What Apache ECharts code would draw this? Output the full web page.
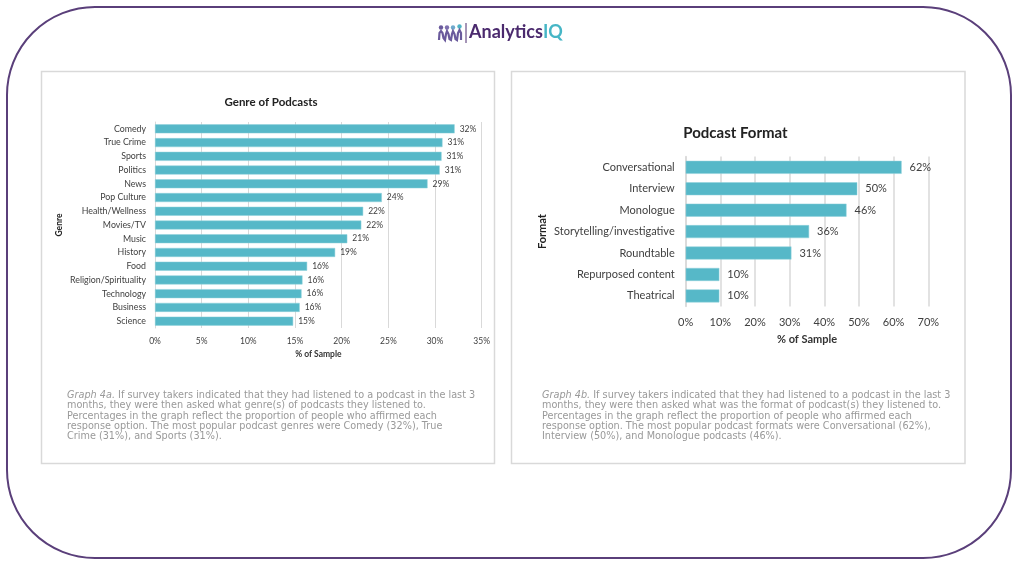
<!DOCTYPE html>
<html>
<head>
<meta charset="utf-8">
<script src="https://cdn.jsdelivr.net/npm/echarts@6/dist/echarts.min.js"></script>
<style>
html,body{margin:0;padding:0;background:#fff;}
#chart{width:1024px;height:572px;}
</style>
</head>
<body>
<div id="chart"></div>
<script>
// ---- data ----
var genreCategories = ['Comedy','True Crime','Sports','Politics','News','Pop Culture','Health/Wellness','Movies/TV','Music','History','Food','Religion/Spirituality','Technology','Business','Science'];
var genreValues = [32.1,30.8,30.7,30.5,29.2,24.3,22.3,22.1,20.6,19.3,16.3,15.8,15.7,15.5,14.8];
var formatCategories = ['Conversational','Interview','Monologue','Storytelling/investigative','Roundtable','Repurposed content','Theatrical'];
var formatValues = [62.3,49.5,46.4,35.6,30.5,9.7,9.7];
var genreTicks = {min:0, max:35, interval:5};
var formatTicks = {min:0, max:70, interval:10};
var captionA = [
  ['Graph 4a.', ' If survey takers indicated that they had listened to a podcast in the last 3'],
  ['', 'months, they were then asked what genre(s) of podcasts they listened to.'],
  ['', 'Percentages in the graph reflect the proportion of people who affirmed each'],
  ['', 'response option. The most popular podcast genres were Comedy (32%), True'],
  ['', 'Crime (31%), and Sports (31%).']
];
var captionB = [
  ['Graph 4b.', ' If survey takers indicated that they had listened to a podcast in the last 3'],
  ['', 'months, they were then asked what was the format of podcast(s) they listened to.'],
  ['', 'Percentages in the graph reflect the proportion of people who affirmed each'],
  ['', 'response option. The most popular podcast formats were Conversational (62%),'],
  ['', 'Interview (50%), and Monologue podcasts (46%).']
];

var FONT = 'Lato, "Open Sans", sans-serif';
var CAPFONT = '"DejaVu Sans", sans-serif';
var BAR = '#56b8c8';
var GRID = '#d9d9d9';
var TXT = '#404040';

function pct(v){ return Math.round(v) + '%'; }

function caption(lines, x, y){
  var s = lines.map(function(l){
    return (l[0] ? '{i|' + l[0] + '}' : '') + '{n|' + l[1] + '}';
  }).join('\n');
  return {
    type:'text', left:x, top:y,
    style:{
      text:s, fontFamily:CAPFONT, fontSize:9.7, fill:'#999999', lineHeight:10.4,
      rich:{
        i:{fontStyle:'italic', fontFamily:CAPFONT, fontSize:9.7, fill:'#999999', lineHeight:10.4},
        n:{fontFamily:CAPFONT, fontSize:9.7, fill:'#999999', lineHeight:10.4}
      }
    }
  };
}

var chart = echarts.init(document.getElementById('chart'), null, {renderer:'canvas'});

var graphics = [
  {type:'rect', shape:{x:7, y:7, width:1004, height:551, r:88}, style:{fill:'none', stroke:'#5a3f7a', lineWidth:2}, z:-10},
  {type:'rect', shape:{x:41.5, y:71.5, width:453, height:392}, style:{fill:'#fff', stroke:'#d9d9d9', lineWidth:1.5}, z:-9},
  {type:'rect', shape:{x:511.5, y:71.5, width:453.5, height:392}, style:{fill:'#fff', stroke:'#d9d9d9', lineWidth:1.5}, z:-9},
  // logo icon
  {type:'circle', shape:{cx:441, cy:27.5, r:2.2}, style:{fill:'#6a5a9c'}},
  {type:'circle', shape:{cx:447, cy:27.5, r:2.2}, style:{fill:'#7d6fae'}},
  {type:'circle', shape:{cx:453, cy:27.5, r:2.2}, style:{fill:'#6fa9cc'}},
  {type:'circle', shape:{cx:459.5, cy:26.5, r:2.2}, style:{fill:'#4fb4c6'}},
  {type:'polyline', shape:{points:[[439,40],[439.5,33],[441,31],[442.5,33],[443.5,38],[445,40],[446,34],[447,31],[448.5,34],[449.5,39],[451,40],[452,34],[453,31],[454.5,34],[455.5,39],[457,40],[458,33],[459.5,30],[461,33],[461,40]]}, style:{stroke:'#6a5a9c', lineWidth:2.2, fill:'none'}},
  {type:'line', shape:{x1:466, y1:23, x2:466, y2:43}, style:{stroke:'#4b2a6e', lineWidth:1}},
  {type:'text', left:469, top:23, style:{
    text:'{a|Analytics}{b|IQ}', fontFamily:FONT,
    rich:{a:{fontFamily:FONT, fontSize:18, fontWeight:'bold', fill:'#4b2a6e'}, b:{fontFamily:FONT, fontSize:18, fontWeight:'bold', fill:'#46b6c6'}}
  }},
  // titles
  {type:'text', x:271, y:102, style:{text:'Genre of Podcasts', fontFamily:FONT, fontSize:11.5, fontWeight:'bold', fill:'#222', align:'center', verticalAlign:'middle'}},
  {type:'text', x:735.5, y:133, style:{text:'Podcast Format', fontFamily:FONT, fontSize:15, fontWeight:'bold', fill:'#222', align:'center', verticalAlign:'middle'}},
  caption(captionA, 67, 390),
  caption(captionB, 542, 390)
];

var option = {
  animation:false,
  textStyle:{fontFamily:FONT},
  graphic:graphics,
  grid:[
    {left:155, right:1024-481.7, top:122, height:206, containLabel:false},
    {left:685.7, right:1024-928.3, top:156.6, height:150, containLabel:false}
  ],
  xAxis:[
    {gridIndex:0, type:'value', min:genreTicks.min, max:genreTicks.max, interval:genreTicks.interval,
     axisLabel:{formatter:'{value}%', fontSize:8.5, color:TXT, margin:9, fontFamily:FONT},
     axisLine:{show:false}, axisTick:{show:false},
     splitLine:{show:true, lineStyle:{color:GRID, width:1}},
     name:'% of Sample', nameLocation:'middle', nameGap:22,
     nameTextStyle:{fontSize:8.5, fontWeight:'bold', color:'#333', fontFamily:FONT}},
    {gridIndex:1, type:'value', min:formatTicks.min, max:formatTicks.max, interval:formatTicks.interval,
     axisLabel:{formatter:'{value}%', fontSize:11, color:TXT, margin:10, fontFamily:FONT},
     axisLine:{show:false}, axisTick:{show:false},
     splitLine:{show:true, lineStyle:{color:GRID, width:1.5}},
     name:'% of Sample', nameLocation:'middle', nameGap:27,
     nameTextStyle:{fontSize:11, fontWeight:'bold', color:'#333', fontFamily:FONT}}
  ],
  yAxis:[
    {gridIndex:0, type:'category', data:genreCategories, inverse:true,
     axisLabel:{fontSize:8.8, color:TXT, margin:9, fontFamily:FONT},
     axisLine:{show:true, lineStyle:{color:GRID}}, axisTick:{show:false},
     name:'Genre', nameLocation:'middle', nameGap:91, nameRotate:90,
     nameTextStyle:{fontSize:8.5, fontWeight:'bold', color:'#222', fontFamily:FONT}},
    {gridIndex:1, type:'category', data:formatCategories, inverse:true,
     axisLabel:{fontSize:11, color:TXT, margin:11, fontFamily:FONT},
     axisLine:{show:true, lineStyle:{color:GRID, width:1.5}}, axisTick:{show:false},
     name:'Format', nameLocation:'middle', nameGap:138, nameRotate:90,
     nameTextStyle:{fontSize:11, fontWeight:'bold', color:'#222', fontFamily:FONT}}
  ],
  series:[
    {type:'bar', xAxisIndex:0, yAxisIndex:0, data:genreValues, barWidth:9,
     itemStyle:{color:BAR, borderColor:'#8fd0da', borderWidth:0.5},
     label:{show:true, position:'right', distance:5, fontSize:8.5, color:TXT, fontFamily:FONT,
            formatter:function(p){return pct(p.value);}}},
    {type:'bar', xAxisIndex:1, yAxisIndex:1, data:formatValues, barWidth:13,
     itemStyle:{color:BAR, borderColor:'#8fd0da', borderWidth:0.5},
     label:{show:true, position:'right', distance:8, fontSize:11, color:TXT, fontFamily:FONT,
            formatter:function(p){return pct(p.value);}}}
  ]
};
chart.setOption(option);
</script>
</body>
</html>
